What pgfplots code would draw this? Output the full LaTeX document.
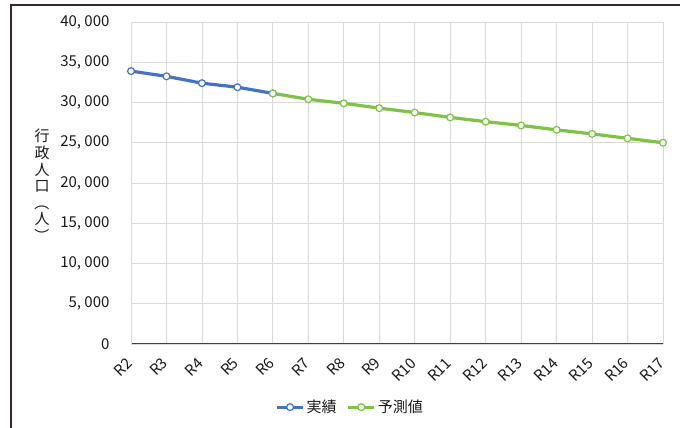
\documentclass[border=0pt]{standalone}
\usepackage{fontspec}
\setmainfont{Noto Sans CJK JP}
\usepackage{graphicx}
\usepackage{pgfplots}
\pgfplotsset{compat=1.18}
\definecolor{actual}{RGB}{68,114,196}
\definecolor{forecast}{RGB}{125,195,70}
\definecolor{gridgray}{RGB}{217,217,217}
\definecolor{framecol}{RGB}{55,40,40}
\definecolor{axiscol}{RGB}{64,64,64}

\begin{document}
\begin{tikzpicture}
\useasboundingbox (0pt,0pt) rectangle (680pt,428pt);
\fill[white] (0pt,0pt) rectangle (680pt,428pt);
\draw[framecol, line width=1.6pt] (11pt,-2pt) -- (11pt,423pt) -- (682pt,423pt);
\begin{axis}[
  at={(131pt,84pt)}, anchor=south west,
  scale only axis, width=532pt, height=322pt,
  xmin=0, xmax=15, ymin=0, ymax=40000,
  clip=false,
  scaled y ticks=false,
  axis x line*=bottom, axis y line*=left,
  x axis line style={axiscol, line width=1pt},
  y axis line style={gridgray, line width=0.8pt},
  grid=major, grid style={gridgray, line width=0.8pt},
  major tick length=0pt,
  xtick={0,...,15},
  xticklabels={R2,R3,R4,R5,R6,R7,R8,R9,R10,R11,R12,R13,R14,R15,R16,R17},
  ytick={0,5000,...,40000},
  yticklabels={0,{5, 000},{10, 000},{15, 000},{20, 000},{25, 000},{30, 000},{35, 000},{40, 000}},
  ticklabel style={font=\fontsize{15}{17}\selectfont, text=black!90},
  yticklabel style={anchor=east, xshift=-18pt},
  xticklabel style={yshift=-14pt, xshift=1pt, rotate=45, anchor=east},
  ylabel={行\\政\\人\\口\\\rotatebox[origin=c]{-90}{（}\\人\\\rotatebox[origin=c]{-90}{）}},
  every axis y label/.style={at={(axis description cs:-0.167,0.49)}, anchor=center, align=center, font=\fontsize{15}{16.6}\selectfont, text=black!90},
  legend style={at={(axis description cs:0.412,-0.196)}, anchor=center, draw=none, fill=none,
    legend columns=2, font=\fontsize{15}{17}\selectfont, text=black!90,
    /tikz/every even column/.append style={column sep=8pt}},
  legend image code/.code={\draw[mark repeat=2,mark phase=2,#1] plot coordinates {(0pt,0pt) (13pt,0pt) (26pt,0pt)};},
]
\addplot[actual, line width=3.2pt, mark=*, mark size=3.4pt,
  mark options={fill=white, draw=actual, line width=1.2pt}]
  coordinates {(0,33900) (1,33250) (2,32400) (3,31900) (4,31130)};
\addlegendentry{実績}
\addplot[forecast, line width=3.2pt, mark=*, mark size=3.4pt,
  mark options={fill=white, draw=forecast, line width=1.2pt}]
  coordinates {(4,31130) (5,30400) (6,29900) (7,29300) (8,28750) (9,28150)
               (10,27620) (11,27150) (12,26600) (13,26100) (14,25550) (15,25000)};
\addlegendentry{予測値}
\end{axis}
\end{tikzpicture}
\end{document}
